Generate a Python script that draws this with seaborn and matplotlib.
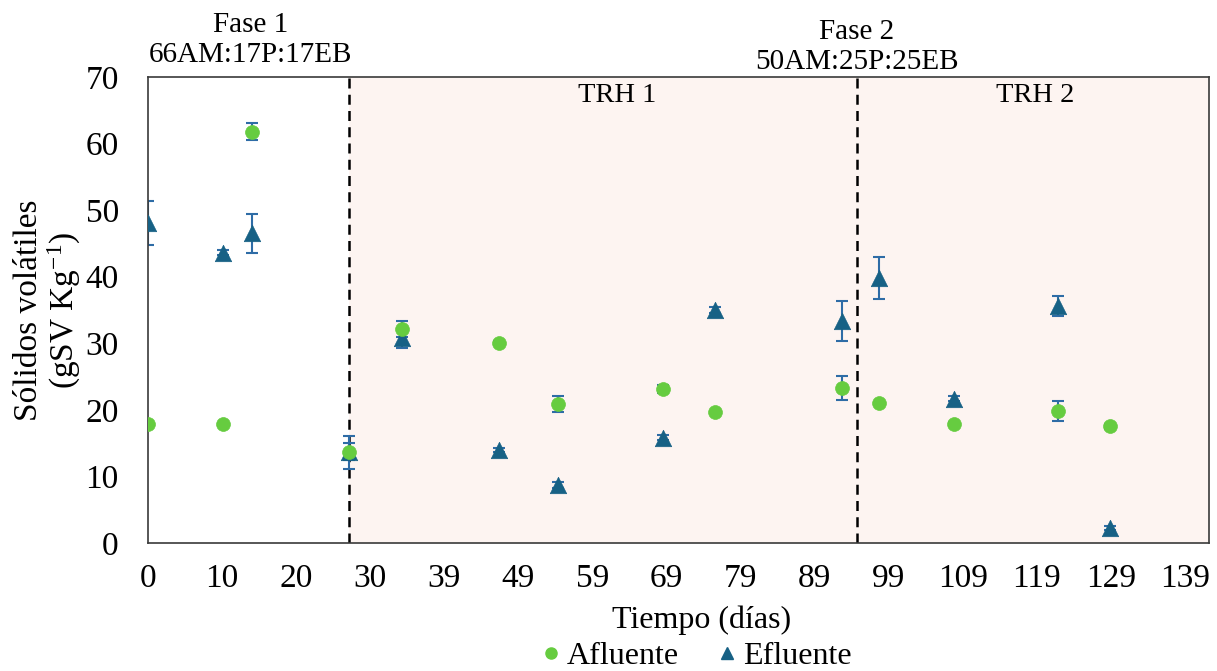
import matplotlib

matplotlib.use("Agg")
import matplotlib.pyplot as plt
import matplotlib.transforms as mtransforms
from matplotlib.lines import Line2D
import numpy as np
import pandas as pd
import seaborn as sns

# días de muestreo y sólidos volátiles (gSV/Kg)
dias = [0, 10, 14, 27, 34, 47, 55, 69, 76, 93, 98, 108, 122, 129]
afluente = [17.8, 17.8, 61.8, 13.7, 32.1, 30.0, 20.9, 23.2, 19.7, 23.3, 21.0, 17.9, 19.8, 17.5]
afluente_err = [0.2, 0.2, 1.3, 1.3, 1.2, 0.3, 1.2, 0.6, 0.2, 1.8, 0.2, 0.3, 1.5, 0.4]
efluente = [48.1, 43.6, 46.5, 13.6, 30.8, 13.9, 8.7, 15.8, 35.0, 33.3, 39.8, 21.7, 35.6, 2.2]
efluente_err = [3.3, 0.4, 2.9, 2.5, 1.5, 0.3, 0.4, 0.4, 0.4, 3.0, 3.2, 0.4, 1.5, 0.3]

x_tick_labels = ["0", "10", "20", "30", "39", "49", "59", "69", "79", "89",
                 "99", "109", "119", "129", "139"]
cambios_fase = [26.95, 95.0]

VERDE = "#66CC40"
AZUL = "#176185"
AZUL_ERR = "#2E6CA6"
ROSA = "#FDF4F1"

sns.set_style("white")
plt.rcParams["font.family"] = ["Liberation Serif", "DejaVu Serif"]
plt.rcParams["mathtext.fontset"] = "custom"
plt.rcParams["mathtext.rm"] = "Liberation Serif"
plt.rcParams["mathtext.it"] = "Liberation Serif:italic"
plt.rcParams["text.color"] = "black"
plt.rcParams["axes.labelcolor"] = "black"

frame = pd.DataFrame({
    "dia": dias * 2,
    "valor": afluente + efluente,
    "error": afluente_err + efluente_err,
    "serie": ["Afluente"] * len(dias) + ["Efluente"] * len(dias),
})

fig = plt.figure(figsize=(12.17, 6.71), dpi=100)
ax = fig.add_axes([0.1216, 0.1908, 0.8718, 0.6944])

x_max = 142.2
ax.set_xlim(0, x_max)
ax.set_ylim(0, 70)
ax.axvspan(cambios_fase[0], x_max, color=ROSA, zorder=0, lw=0)
for xv in cambios_fase:
    ax.axvline(xv, color="black", lw=1.8, dashes=(4, 2.5), zorder=1)

for serie in ["Efluente", "Afluente"]:
    sub = frame[frame["serie"] == serie]
    ax.errorbar(sub["dia"], sub["valor"], yerr=sub["error"], fmt="none",
                ecolor=AZUL_ERR, elinewidth=1.5, capsize=4, capthick=1.5, zorder=2)

sub = frame[frame["serie"] == "Efluente"]
sns.scatterplot(data=sub, x="dia", y="valor", marker="^", s=140, color=AZUL,
                edgecolor=AZUL, linewidth=0.5, ax=ax, zorder=3, legend=False)
sub = frame[frame["serie"] == "Afluente"]
sns.scatterplot(data=sub, x="dia", y="valor", marker="o", s=100, color=VERDE,
                edgecolor=VERDE, linewidth=0.5, ax=ax, zorder=4, legend=False)

fs_tick = 24
fs_lab = 23
ax.set_xticks(np.linspace(0, 139, len(x_tick_labels)))
ax.set_xticklabels(x_tick_labels)
ax.set_yticks(np.arange(0, 71, 10))
ax.tick_params(axis="both", length=0, labelsize=fs_tick, colors="black")
ax.tick_params(axis="x", pad=15)
ax.tick_params(axis="y", pad=21)
ax.grid(False)
for spine in ax.spines.values():
    spine.set_visible(True)
    spine.set_color("#3a3a3a")
    spine.set_linewidth(1.2)

ax.set_xlabel("Tiempo (días)", fontsize=fs_lab, labelpad=8)
ax.xaxis.label.set_x(0.522)
ax.set_ylabel("Sólidos volátiles\n(gSV Kg$^{-1}$)", fontsize=fs_tick, labelpad=2,
              linespacing=1.05)

ax.text(62.9, 67.3, "TRH 1", fontsize=20.5, ha="center", va="center")
ax.text(118.9, 67.3, "TRH 2", fontsize=20.5, ha="center", va="center")

trans = mtransforms.blended_transform_factory(ax.transData, ax.transAxes)
ax.text(13.7, 1.079, "Fase 1\n66AM:17P:17EB", transform=trans, fontsize=21,
        ha="center", va="center", linespacing=1.2, clip_on=False)
ax.text(95.0, 1.064, "Fase 2\n50AM:25P:25EB", transform=trans, fontsize=21,
        ha="center", va="center", linespacing=1.2, clip_on=False)

handles = [
    Line2D([], [], marker="o", ls="none", color=VERDE, markersize=8, label="Afluente"),
    Line2D([], [], marker="^", ls="none", color=AZUL, markersize=9, label="Efluente"),
]
fig.legend(handles=handles, loc="center", bbox_to_anchor=(0.572, 0.022), ncol=2,
           frameon=False, fontsize=fs_lab, handlelength=0.6, handletextpad=0.2,
           columnspacing=1.2, borderaxespad=0)

fig.savefig("out.png", dpi=100)
